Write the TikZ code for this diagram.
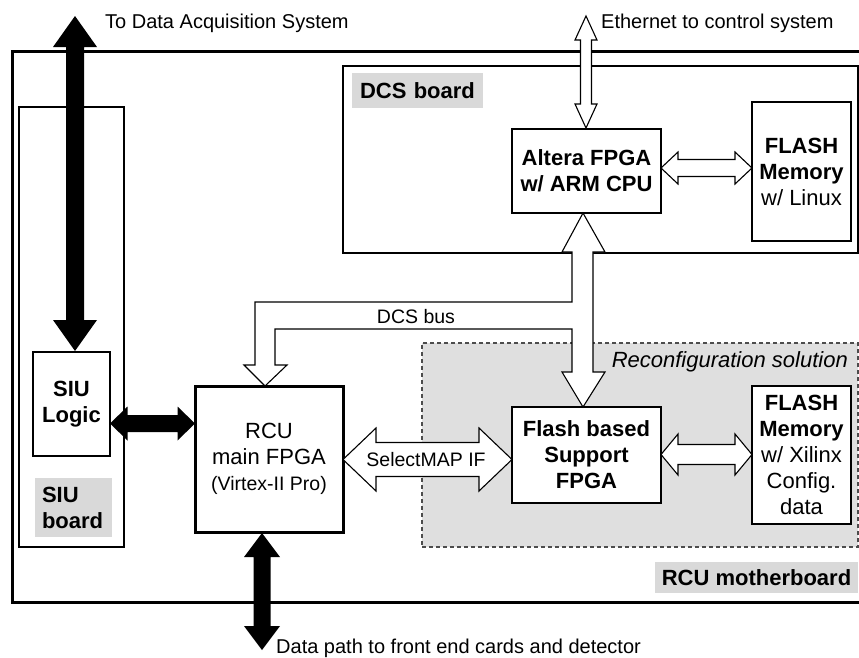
\documentclass[tikz,border=0pt]{standalone}
\usepackage{fontspec}
\setmainfont{Liberation Sans}
% vertical double arrow: style, x, ytop, ybottom, head half width, shaft half width, head length
\newcommand{\VDArrow}[7]{%
 \path[#1] (#2,#3) -- ({#2+#5},{#3+#7}) -- ({#2+#6},{#3+#7}) -- ({#2+#6},{#4-#7}) -- ({#2+#5},{#4-#7}) -- (#2,#4) -- ({#2-#5},{#4-#7}) -- ({#2-#6},{#4-#7}) -- ({#2-#6},{#3+#7}) -- ({#2-#5},{#3+#7}) -- cycle;}
% horizontal double arrow: style, y, xleft, xright, head half height, shaft half height, head length
\newcommand{\HDArrow}[7]{%
 \path[#1] (#3,#2) -- ({#3+#7},{#2-#5}) -- ({#3+#7},{#2-#6}) -- ({#4-#7},{#2-#6}) -- ({#4-#7},{#2-#5}) -- (#4,#2) -- ({#4-#7},{#2+#5}) -- ({#4-#7},{#2+#6}) -- ({#3+#7},{#2+#6}) -- ({#3+#7},{#2+#5}) -- cycle;}
\begin{document}
\begin{tikzpicture}[x=1pt,y=-1pt,
 box/.style={draw, line width=1.1pt, fill=white, inner sep=0pt, align=center, font=\fontsize{22}{26}\selectfont},
 boldbox/.style={box, font=\fontsize{22}{26}\selectfont\bfseries},
 lbl/.style={fill=gray!30, inner sep=0pt, font=\fontsize{22}{26}\selectfont\bfseries},
 blackarr/.style={fill=black},
 hollowarr/.style={draw=black, fill=white, line width=1.1pt, line join=miter},
 plain/.style={inner sep=0pt, font=\fontsize{20}{24}\selectfont},
 small/.style={inner sep=0pt, font=\fontsize{19.5}{24}\selectfont}]
\useasboundingbox (0,0) rectangle (859,657);
% RCU motherboard frame
\draw[line width=3pt] (859,51) -- (12,51) -- (12,602) -- (859,602);
% SIU board
\node[draw, line width=1.1pt, minimum width=105, minimum height=440, inner sep=0pt] (siuboard) at (71.5,327) {};
% DCS board
\node[draw, line width=1.1pt, minimum width=515, minimum height=187, inner sep=0pt] (dcsboard) at (600.5,159.5) {};
% Reconfiguration solution
\node[draw=gray!60!black, dash pattern=on 4pt off 3pt, fill=gray!25, line width=1.1pt, minimum width=436, minimum height=204, inner sep=0pt] (reconf) at (640,445) {};
% labels
\node[lbl, minimum width=131, minimum height=35, text width=115, align=left] (dcslbl) at (417.5,90.5) {DCS board};
\node[lbl, minimum width=77, minimum height=59, text width=63, align=left] (siulbl) at (73.5,507.5) {SIU\\board};
\node[lbl, minimum width=203, minimum height=31] (rculbl) at (756.5,577.5) {RCU motherboard};
% boxes
\node[boldbox, minimum width=77, minimum height=104] (siu) at (71.5,404) {SIU\\Logic};
\node[box, line width=3pt, minimum width=148, minimum height=146] (rcu) at (269,459) {RCU\\main FPGA\\{\fontsize{19.5}{24}\selectfont (Virtex-II Pro)}};
\node[boldbox, minimum width=149, minimum height=84] (altera) at (586.5,171) {Altera FPGA\\w/ ARM CPU};
\node[box, minimum width=99, minimum height=139] (flashlin) at (801.5,171.5) {\textbf{FLASH}\\\textbf{Memory}\\w/ Linux};
\node[boldbox, minimum width=149, minimum height=96] (support) at (586.5,455) {Flash based\\Support\\FPGA};
\node[box, minimum width=99, minimum height=138] (flashxil) at (801.5,455) {\textbf{FLASH}\\\textbf{Memory}\\w/ Xilinx\\Config.\\data};
% black arrows
\VDArrow{blackarr}{75}{16}{351}{22}{9}{31}
\HDArrow{blackarr}{423.5}{110}{195}{17}{8.5}{17.5}
\VDArrow{blackarr}{262}{533}{650}{18}{8.5}{24}
% hollow arrows
\VDArrow{hollowarr}{586}{16}{128}{11}{5.5}{24}
\HDArrow{hollowarr}{168}{661}{752}{16}{8.5}{17}
\HDArrow{hollowarr}{459.5}{343}{512}{31.5}{17}{33}
\HDArrow{hollowarr}{454.5}{661}{752}{20.5}{10}{17}
% DCS bus
\path[hollowarr] (265,386) -- (287,365) -- (275,365) -- (275,329) -- (572,329) -- (572,372) -- (562,372) -- (583,407) -- (605,372) -- (593,372) -- (593,252) -- (605,252) -- (583,213) -- (562,252) -- (572,252) -- (572,302) -- (255,302) -- (255,365) -- (244,365) -- cycle;
% texts
\node[plain, anchor=west] (daq) at (105,23) {To Data Acquisition System};
\node[plain, anchor=west] (eth) at (601,23) {Ethernet to control system};
\node[plain, anchor=west] (dp) at (276,648) {Data path to front end cards and detector};
\node[small] (dcsbus) at (416,317) {DCS bus};
\node[small] (smap) at (426,460) {SelectMAP IF};
\node[inner sep=0pt, font=\fontsize{22}{26}\selectfont\itshape, anchor=east] (reconflbl) at (848,362) {Reconfiguration solution};
\end{tikzpicture}
\end{document}
